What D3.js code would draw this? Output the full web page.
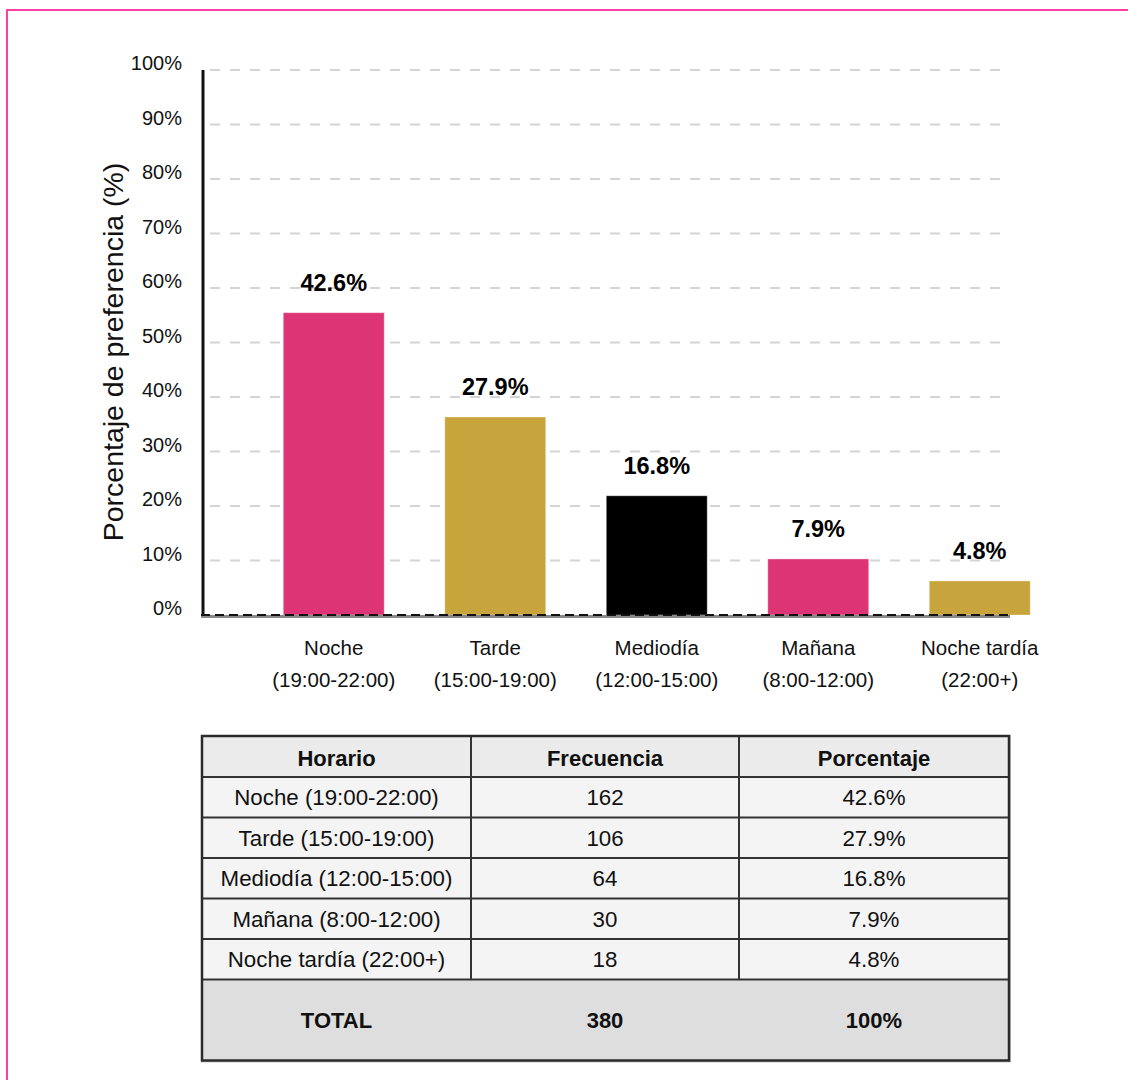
<!DOCTYPE html>
<html>
<head>
<meta charset="utf-8">
<script src="https://cdn.jsdelivr.net/npm/d3@7"></script>
<style>
  html, body { margin: 0; padding: 0; background: #fff; }
  svg { display: block; font-family: "Liberation Sans", Arial, sans-serif; }
</style>
</head>
<body>
<svg id="chart" width="1128" height="1080"></svg>
<script>
// Franjas horarias y su preferencia
const categories = ["Noche", "Tarde", "Mediodía", "Mañana", "Noche tardía"];
const ranges = ["(19:00-22:00)", "(15:00-19:00)", "(12:00-15:00)", "(8:00-12:00)", "(22:00+)"];
const tableLabels = ["Noche (19:00-22:00)", "Tarde (15:00-19:00)", "Mediodía (12:00-15:00)", "Mañana (8:00-12:00)", "Noche tardía (22:00+)"];
const frequencies = [162, 106, 64, 30, 18];
const percentages = [42.6, 27.9, 16.8, 7.9, 4.8];
const barColors = ["#dc3474", "#c8a43c", "#000000", "#dc3474", "#c8a43c"];
// Techo del eje: 1.8 veces el valor máximo; las marcas se rotulan como fracción de ese techo
const yMax = 76.8;
const yTickLabels = ["0%", "10%", "20%", "30%", "40%", "50%", "60%", "70%", "80%", "90%", "100%"];
const tableHeaders = ["Horario", "Frecuencia", "Porcentaje"];
const totalRow = ["TOTAL", "380", "100%"];

const svg = d3.select("#chart");

// Marco exterior
svg.append("rect")
  .attr("x", 7).attr("y", 10).attr("width", 1300).attr("height", 1300)
  .attr("fill", "none").attr("stroke", "#ff3fa4").attr("stroke-width", 2);

const plot = { left: 203, right: 1000, top: 70, bottom: 615 };

const y = d3.scaleLinear().domain([0, yMax]).range([plot.bottom, plot.top]);
const x = d3.scaleBand().domain(categories).range([253, 1060.5])
  .paddingInner(0.375).paddingOuter(0.1875);

const tickVals = yTickLabels.map((_, i) => yMax * i / 10);

// Líneas de cuadrícula
svg.append("g").selectAll("line").data(tickVals.slice(1)).join("line")
  .attr("x1", plot.left).attr("x2", plot.right)
  .attr("y1", d => y(d)).attr("y2", d => y(d))
  .attr("stroke", "#d4d4d4").attr("stroke-width", 2)
  .attr("stroke-dasharray", "10,10").attr("stroke-dashoffset", 13);

// Eje Y
const yAxis = d3.axisLeft(y).tickValues(tickVals)
  .tickFormat((d, i) => yTickLabels[i]).tickSize(0).tickPadding(21);
const yg = svg.append("g").attr("transform", `translate(${plot.left},0)`).call(yAxis);
yg.select(".domain").remove();
yg.selectAll("text")
  .attr("font-size", 20).attr("font-family", "Liberation Sans, Arial, sans-serif")
  .attr("fill", "#111").attr("dy", "-0.02em");
svg.append("line")
  .attr("x1", plot.left).attr("x2", plot.left)
  .attr("y1", plot.top).attr("y2", plot.bottom + 2)
  .attr("stroke", "#111").attr("stroke-width", 3);

// Título del eje Y
svg.append("text")
  .attr("transform", "translate(123,352) rotate(-90)")
  .attr("text-anchor", "middle")
  .attr("font-size", 28.5).attr("fill", "#111")
  .text("Porcentaje de preferencia (%)");

// Barras
svg.append("g").selectAll("rect").data(percentages).join("rect")
  .attr("x", (d, i) => x(categories[i]))
  .attr("width", x.bandwidth())
  .attr("y", d => y(d))
  .attr("height", d => y(0) - y(d))
  .attr("fill", (d, i) => barColors[i])
  .attr("stroke", "rgba(255,255,255,0.35)").attr("stroke-width", 1);

// Eje X (línea base)
svg.append("line")
  .attr("x1", 201).attr("x2", 1010)
  .attr("y1", plot.bottom + 1.5).attr("y2", plot.bottom + 1.5)
  .attr("stroke", "#8a8a8a").attr("stroke-width", 3);
svg.append("line")
  .attr("x1", 201).attr("x2", 1010)
  .attr("y1", plot.bottom).attr("y2", plot.bottom)
  .attr("stroke", "#111").attr("stroke-width", 2)
  .attr("stroke-dasharray", "9,5");

// Etiquetas de valor
svg.append("g").selectAll("text").data(percentages).join("text")
  .attr("x", (d, i) => x(categories[i]) + x.bandwidth() / 2)
  .attr("y", d => y(d) - 22)
  .attr("text-anchor", "middle")
  .attr("font-size", 23.5).attr("font-weight", "bold").attr("fill", "#000")
  .text(d => d.toFixed(1) + "%");

// Etiquetas de categoría
const cat = svg.append("g").selectAll("text").data(categories).join("text")
  .attr("text-anchor", "middle")
  .attr("font-size", 20.5).attr("fill", "#111");
cat.append("tspan")
  .attr("x", d => x(d) + x.bandwidth() / 2).attr("y", 655)
  .text(d => d);
cat.append("tspan")
  .attr("x", d => x(d) + x.bandwidth() / 2).attr("y", 687)
  .text((d, i) => ranges[i]);

// Tabla resumen
const tbl = { left: 202, right: 1009, top: 736, headerH: 41, rowH: 40.5, totalH: 81 };
const colEdges = [tbl.left, 471, 739, tbl.right];
const colCenters = [0, 1, 2].map(i => (colEdges[i] + colEdges[i + 1]) / 2);
const rowTops = tableLabels.map((_, i) => tbl.top + tbl.headerH + i * tbl.rowH);
const totalTop = tbl.top + tbl.headerH + tableLabels.length * tbl.rowH;
const tableBottom = totalTop + tbl.totalH;

const tg = svg.append("g");
// sombra suave
tg.append("rect")
  .attr("x", tbl.left - 1).attr("y", tbl.top - 1)
  .attr("width", tbl.right - tbl.left + 3).attr("height", tableBottom - tbl.top + 3)
  .attr("fill", "#c8c8c8");
tg.append("rect")
  .attr("x", tbl.left).attr("y", tbl.top)
  .attr("width", tbl.right - tbl.left).attr("height", tbl.headerH)
  .attr("fill", "#ebebeb");
tg.selectAll("rect.row").data(rowTops).join("rect").attr("class", "row")
  .attr("x", tbl.left).attr("y", d => d)
  .attr("width", tbl.right - tbl.left).attr("height", tbl.rowH)
  .attr("fill", "#f4f4f4");
tg.append("rect")
  .attr("x", tbl.left).attr("y", totalTop)
  .attr("width", tbl.right - tbl.left).attr("height", tbl.totalH)
  .attr("fill", "#dedede");

// líneas horizontales internas
const hLines = [tbl.top + tbl.headerH, ...rowTops.slice(1), totalTop];
tg.selectAll("line.h").data(hLines).join("line").attr("class", "h")
  .attr("x1", tbl.left).attr("x2", tbl.right)
  .attr("y1", d => d).attr("y2", d => d)
  .attr("stroke", "#333").attr("stroke-width", 2);
// líneas verticales internas
tg.selectAll("line.v").data(colEdges.slice(1, 3)).join("line").attr("class", "v")
  .attr("x1", d => d).attr("x2", d => d)
  .attr("y1", tbl.top).attr("y2", totalTop)
  .attr("stroke", "#333").attr("stroke-width", 2);
// borde exterior
tg.append("rect")
  .attr("x", tbl.left).attr("y", tbl.top)
  .attr("width", tbl.right - tbl.left).attr("height", tableBottom - tbl.top)
  .attr("fill", "none").attr("stroke", "#2a2a2a").attr("stroke-width", 2.5);

// encabezados
tg.selectAll("text.hd").data(tableHeaders).join("text").attr("class", "hd")
  .attr("x", (d, i) => colCenters[i]).attr("y", tbl.top + tbl.headerH / 2 + 2)
  .attr("dy", "0.36em").attr("text-anchor", "middle")
  .attr("font-size", 22).attr("font-weight", "bold").attr("fill", "#111")
  .text(d => d);

// filas de datos
const rowsData = tableLabels.map((l, i) => [l, String(frequencies[i]), percentages[i].toFixed(1) + "%"]);
const rg = tg.selectAll("g.r").data(rowsData).join("g").attr("class", "r");
rg.selectAll("text").data((d, i) => d.map(v => ({ v, i }))).join("text")
  .attr("x", (d, j) => colCenters[j])
  .attr("y", d => rowTops[d.i] + tbl.rowH / 2)
  .attr("dy", "0.36em").attr("text-anchor", "middle")
  .attr("font-size", 22.3).attr("fill", "#111")
  .text(d => d.v);

// fila total
tg.selectAll("text.tot").data(totalRow).join("text").attr("class", "tot")
  .attr("x", (d, i) => colCenters[i]).attr("y", totalTop + tbl.totalH / 2)
  .attr("dy", "0.36em").attr("text-anchor", "middle")
  .attr("font-size", 22).attr("font-weight", "bold").attr("fill", "#111")
  .text(d => d);
</script>
</body>
</html>
